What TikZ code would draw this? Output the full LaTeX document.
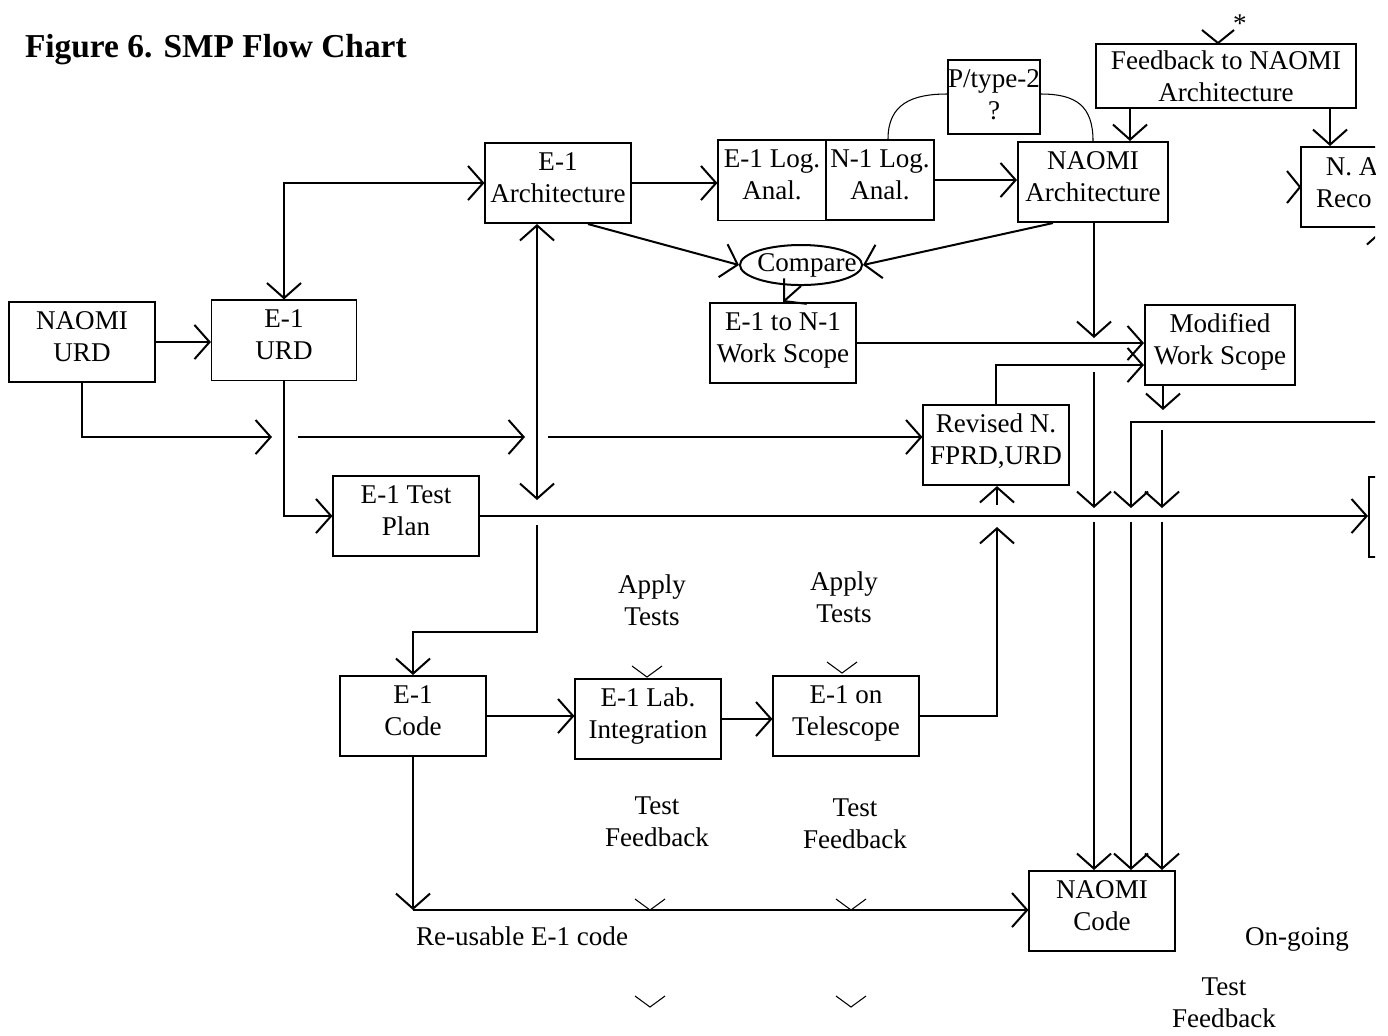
\documentclass[tikz,border=0pt]{standalone}
\usepackage{fontspec}
\setmainfont{Liberation Serif}
\usetikzlibrary{arrows.meta,shapes.geometric,calc}
\begin{document}
\begin{tikzpicture}[x=0.01cm,y=-0.01cm,line width=0.57pt,font=\fontsize{7.7}{9.1}\selectfont]
\tikzset{barb/.tip={Straight Barb[length=4.3pt,width=9.7pt]},
  arr/.style={-barb},
  box/.style={draw,minimum width=1.45cm,minimum height=0.8cm,inner sep=0pt,align=center,text depth=3.3pt},
  thinbox/.style={box,line width=0.3pt},
  note/.style={align=center,inner sep=0pt},
  vhead/.pic={\draw (-16,-13) -- (0,0) -- (16,-13);},
  smallv/.pic={\draw[line width=0.3pt] (-15,-11) -- (0,0) -- (15,-11);}}
\useasboundingbox (0,0) rectangle (1388,1035);
\node[anchor=west,inner sep=0pt,font=\bfseries\fontsize{9.5}{11}\selectfont] (title) at (24,50) {Figure 6. SMP Flow Chart};
\begin{scope}
\clip (0,0) rectangle (1375,1035);
% boxes
\node[box] (nurd) at (82,342) {NAOMI\\URD};
\node[thinbox] (eurd) at (284,340) {E-1\\URD};
\node[box] (earch) at (558,183) {E-1\\Architecture};
\node[thinbox,minimum width=1.08cm] (elog) at (772,180) {E-1 Log.\\Anal.};
\node[box,minimum width=1.08cm] (nlog) at (880,180) {N-1 Log.\\Anal.};
\node[box,minimum width=0.92cm,minimum height=0.74cm,text depth=1.5pt] (ptype) at (994,97) {P/type-2\\?};
\node[box,minimum width=1.5cm] (narch) at (1093,182) {NAOMI\\Architecture};
\node[box,minimum width=2.6cm,minimum height=0.64cm,text depth=0pt] (fback) at (1226,76) {Feedback to NAOMI\\Architecture};
\node[box,anchor=north west,minimum width=1.5cm] (nrec) at (1300,146) {};
\node[note,anchor=west,align=left] (nrectext) at (1315,183) {\hspace{2.8pt}N. A\\Reco};
\node[draw,ellipse,minimum width=1.22cm,minimum height=0.4cm,inner sep=0pt] (cmp) at (801,265) {\makebox[0pt]{\hspace{3.4pt}Compare}};
\node[box] (ews) at (783,343) {E-1 to N-1\\Work Scope};
\node[box,minimum width=1.5cm] (mws) at (1220,345) {Modified\\Work Scope};
\node[box] (rev) at (996,445) {Revised N.\\FPRD,URD};
\node[box] (tplan) at (406,516) {E-1 Test\\Plan};
\node[box] (ecode) at (413,716) {E-1\\Code};
\node[box] (elab) at (648,719) {E-1 Lab.\\Integration};
\node[box] (etel) at (846,716) {E-1 on\\Telescope};
\node[box] (ncode) at (1102,911) {NAOMI\\Code};
\node[box,anchor=north west,minimum width=1.5cm] (rbox) at (1368,476) {};
% free labels
\node[note] (apply1) at (652,600) {Apply\\Tests};
\node[note] (apply2) at (844,597) {Apply\\Tests};
\node[note] (fb1) at (657,822) {Test\\Feedback};
\node[note] (fb2) at (855,824) {Test\\Feedback};
\node[note,anchor=west] (reuse) at (415,936) {Re-usable E-1 code};
\node[note] (ongo) at (1297,939) {On-going};
\node[note] (fb3) at (1224,1003) {Test\\Feedback};
\node[note] (star) at (1240,24) {*};
% junction points
\coordinate (j1) at (272,437); \coordinate (j2) at (298,437);
\coordinate (j3) at (525,437); \coordinate (j4) at (548,437);
\coordinate (k1) at (537,500); \coordinate (k2) at (537,525); \coordinate (k3) at (413,632);
\coordinate (fx1) at (1130,0); \coordinate (fx2) at (1330,0);
\coordinate (m2) at (1000,365);
\coordinate (v1a) at (1094,338); \coordinate (v1b) at (1094,372);
\coordinate (v1c) at (1094,508); \coordinate (v1d) at (1094,522);
\coordinate (hr) at (1380,422); \coordinate (v2b) at (1131,508); \coordinate (v2c) at (1131,522);
\coordinate (v3a) at (1163,410); \coordinate (v3b) at (1162,430);
\coordinate (v3c) at (1162,508); \coordinate (v3d) at (1162,522);
\coordinate (q1) at (997,527); \coordinate (q2) at (997,505);
\coordinate (s1) at (413,910);
\coordinate (u1) at (1384,260);
% connectors
\draw[arr] (nurd.east) -- (nurd.east -| eurd.west);
\draw[barb-barb] (eurd.north) |- (earch.west);
\draw[arr] (nurd.south) |- (j1);
\draw[arr] (j2) -- (j3);
\draw[arr] (j4) -- (j4 -| rev.west);
\draw[arr] (eurd.south) |- (tplan.west);
\draw[barb-barb] (k1 |- earch.south) -- (k1);
\draw[arr] (k2) |- (k3) -- (ecode.north);
\draw[arr] (tplan.east) -- (tplan.east -| rbox.west);
\draw[arr] (earch.east) -- (earch.east -| elog.west);
\draw[arr] (nlog.east) -- (nlog.east -| narch.west);
\draw[line width=0.3pt] ($(nlog.north)+(8,0)$) .. controls +(0,-35) and +(-35,0) .. ($(ptype.west)+(0,-3)$);
\draw[line width=0.3pt] ($(ptype.east)+(0,-3)$) .. controls +(35,0) and +(0,-35) .. (narch.north);
\draw[arr] (fback.south -| fx1) -- (narch.north -| fx1);
\draw[arr] (fback.south -| fx2) -- (nrec.north -| fx2);
\draw[arr] ($(earch.south)+(30,0)$) -- (cmp.west);
\draw[arr] ($(narch.south)+(-40,0)$) -- (cmp.east);
\draw[arr] (cmp.south) -- (ews.north);
\draw[arr] (ews.east) -- (ews.east -| mws.west);
\draw[arr] (rev.north) |- (m2 -| mws.west);
\draw[arr] (v1a |- narch.south) -- (v1a);
\draw[arr] (v1b) -- (v1c);
\draw[arr] (v1d) -- (ncode.north -| v1d);
\draw[arr] (hr) -| (v2b);
\draw[arr] (v2c) -- (ncode.north -| v2c);
\draw[arr] (mws.south -| v3a) -- (v3a);
\draw[arr] (v3b) -- (v3c);
\draw[arr] (v3d) -- (ncode.north -| v3d);
\draw[arr] (etel.east) -| (q1);
\draw[arr] (q2) -- (rev.south -| q2);
\draw[arr] (ecode.east) -- (ecode.east -| elab.west);
\draw[arr] (elab.east) -- (elab.east -| etel.west);
\draw[arr] (ecode.south) -- (s1);
\draw[arr] (s1) -- (s1 -| ncode.west);
\draw[arr] (u1) -- (u1 |- nrec.south);
% loose heads
\pic[rotate=90] at (nrec.west) {vhead};
\pic at (1218,43) {vhead};
\pic at (647,677) {smallv};
\pic at (842,673) {smallv};
\pic at (650,910) {smallv};
\pic at (851,910) {smallv};
\pic at (650,1007) {smallv};
\pic at (851,1007) {smallv};
\end{scope}
\end{tikzpicture}
\end{document}
